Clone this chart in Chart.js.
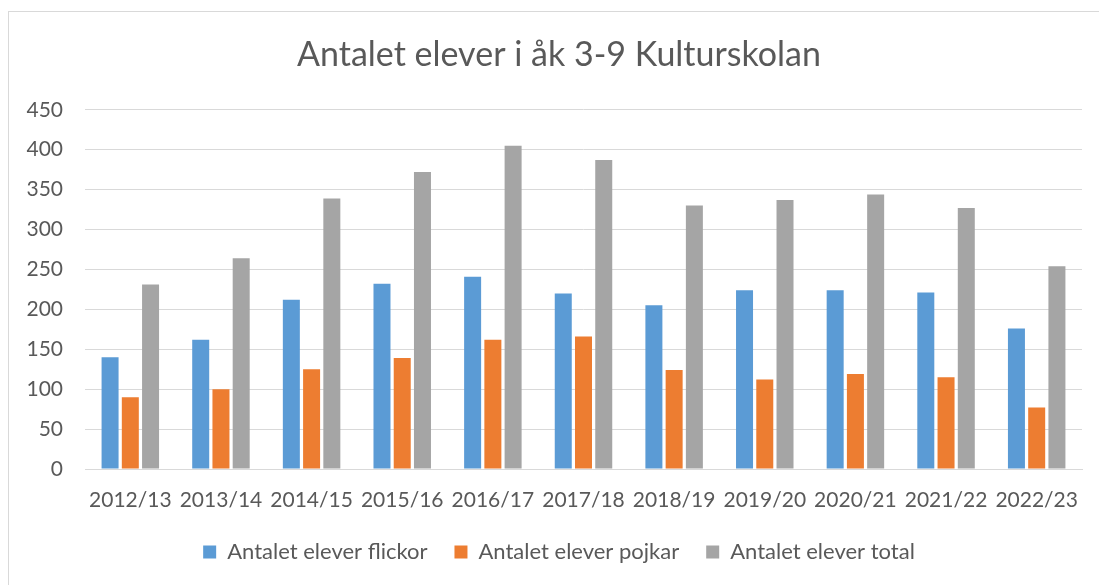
<!DOCTYPE html>
<html>
<head>
<meta charset="utf-8">
<script src="https://cdn.jsdelivr.net/npm/chart.js@4"></script>
<style>
  html, body { margin: 0; padding: 0; background: #fff; overflow: hidden; }
  #frame {
    position: absolute; left: 8px; top: 11px;
    width: 1200px; height: 700px;
    border: 1px solid #d9d9d9;
  }
  #wrap { position: absolute; left: 0; top: 0; width: 1118px; height: 585px; }
</style>
</head>
<body>
<div id="frame"></div>
<div id="wrap"><canvas id="chart1"></canvas></div>
<script>
const labels = ['2012/13', '2013/14', '2014/15', '2015/16', '2016/17', '2017/18', '2018/19', '2019/20', '2020/21', '2021/22', '2022/23'];
const flickor = [140, 162, 212, 232, 241, 220, 205, 224, 224, 221, 176];
const pojkar = [90, 100, 125, 139, 162, 166, 124, 112, 119, 115, 77];
const total = [231, 264, 339, 372, 405, 387, 330, 337, 344, 327, 254];
const yTicks = [0, 50, 100, 150, 200, 250, 300, 350, 400, 450];

const textColor = '#595959';
const font = 'Lato';

const ctx = document.getElementById('chart1');

const bar = (label, values, color) => ({
  label: label,
  data: values,
  backgroundColor: color,
  borderWidth: 0,
  barPercentage: 0.84,
  categoryPercentage: 0.67,
});

new Chart(ctx, {
  type: 'bar',
  data: {
    labels: labels,
    datasets: [
      bar('Antalet elever flickor', flickor, '#5B9BD5'),
      bar('Antalet elever pojkar', pojkar, '#ED7D31'),
      bar('Antalet elever total', total, '#A5A5A5'),
    ]
  },
  options: {
    responsive: true,
    maintainAspectRatio: false,
    animation: false,
    layout: {
      padding: { left: 8, right: 8, top: 0, bottom: 12 }
    },
    plugins: {
      title: {
        display: true,
        text: 'Antalet elever i åk 3-9 Kulturskolan',
        color: textColor,
        font: { size: 34, family: font, weight: 'normal' },
        padding: { top: 35, bottom: 34 }
      },
      legend: {
        position: 'bottom',
        labels: {
          color: textColor,
          boxWidth: 13,
          boxHeight: 13,
          padding: 27,
          font: { size: 22, family: font }
        }
      },
      tooltip: { enabled: false }
    },
    scales: {
      y: {
        min: 0,
        max: 450,
        afterFit: (scale) => { scale.width = 77; },
        afterBuildTicks: (scale) => { scale.ticks = yTicks.map(v => ({ value: v })); },
        grid: {
          color: '#d9d9d9',
          lineWidth: 1,
          drawTicks: false
        },
        border: { display: false },
        ticks: {
          color: textColor,
          padding: 22,
          font: { size: 21, family: font }
        }
      },
      // empty spacer on the right so the plot ends where the reference does
      spacer: {
        type: 'linear',
        position: 'right',
        afterFit: (scale) => { scale.width = 28; },
        grid: { display: false, drawTicks: false },
        border: { display: false },
        ticks: { display: false }
      },
      x: {
        afterFit: (scale) => { scale.height = 45; },
        grid: { display: false, drawTicks: false },
        border: { color: '#d9d9d9', width: 1 },
        ticks: {
          color: textColor,
          padding: 19,
          maxRotation: 0,
          autoSkip: false,
          font: { size: 21, family: font }
        }
      }
    }
  }
});
</script>
</body>
</html>
